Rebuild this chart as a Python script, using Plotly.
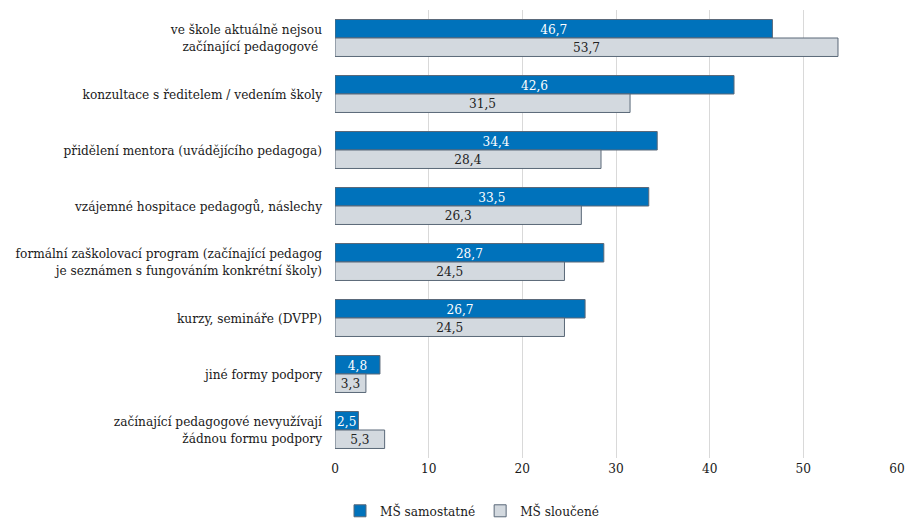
import plotly.graph_objects as go

categories = [
    "ve škole aktuálně nejsou<br>začínající pedagogové ",
    "konzultace s ředitelem / vedením školy",
    "přidělení mentora (uvádějícího pedagoga)",
    "vzájemné hospitace pedagogů, náslechy",
    "formální zaškolovací program (začínající pedagog<br>je seznámen s fungováním konkrétní školy)",
    "kurzy, semináře (DVPP)",
    "jiné formy podpory",
    "začínající pedagogové nevyužívají<br>žádnou formu podpory",
]
samostatne = [46.7, 42.6, 34.4, 33.5, 28.7, 26.7, 4.8, 2.5]
sloucene = [53.7, 31.5, 28.4, 26.3, 24.5, 24.5, 3.3, 5.3]
series_names = ["MŠ samostatné", "MŠ sloučené"]
x_ticks = [0, 10, 20, 30, 40, 50, 60]

FONT = '"DejaVu Serif Condensed", "DejaVu Serif", serif'

fig = go.Figure()
fig.add_trace(go.Bar(
    y=categories, x=samostatne, orientation="h", name=series_names[0],
    marker=dict(color="#0072BB", line=dict(color="#5A6878", width=1)),
    texttemplate="%{x:.1f}", textposition="inside", insidetextanchor="middle",
    textfont=dict(color="white", size=13.5, family=FONT),
))
fig.add_trace(go.Bar(
    y=categories, x=sloucene, orientation="h", name=series_names[1],
    marker=dict(color="#D3D9DF", line=dict(color="#5A6878", width=1)),
    texttemplate="%{x:.1f}", textposition="inside", insidetextanchor="middle",
    textfont=dict(color="#222222", size=13.5, family=FONT),
))

fig.update_layout(
    width=909, height=518,
    margin=dict(l=335, r=12, t=10, b=60, autoexpand=False),
    paper_bgcolor="white", plot_bgcolor="white",
    barmode="group", bargap=0.34, bargroupgap=0,
    separators=",.",
    font=dict(family=FONT, size=13.5, color="#1a1a1a"),
    uniformtext=dict(minsize=13.5, mode="show"),
    legend=dict(orientation="h", x=340 / 909, xref="container", y=0.0135, yref="container",
                xanchor="left", yanchor="middle",
                font=dict(size=13.5, family=FONT), traceorder="normal",
                itemwidth=30, tracegroupgap=0),
    showlegend=True,
)
fig.update_xaxes(range=[0, 60], tickvals=x_ticks, showgrid=True, gridcolor="#D9D9D9",
                 gridwidth=1, zeroline=False, showline=False, ticks="",
                 tickfont=dict(size=13.5, family=FONT), automargin=False)
fig.update_yaxes(autorange="reversed", showgrid=False, showline=False, ticks="",
                 ticklabelstandoff=12, tickfont=dict(size=13.5, family=FONT), automargin=False)

fig.write_html("out.html", config={"displayModeBar": False},
               post_script="document.body.style.margin='0';")
